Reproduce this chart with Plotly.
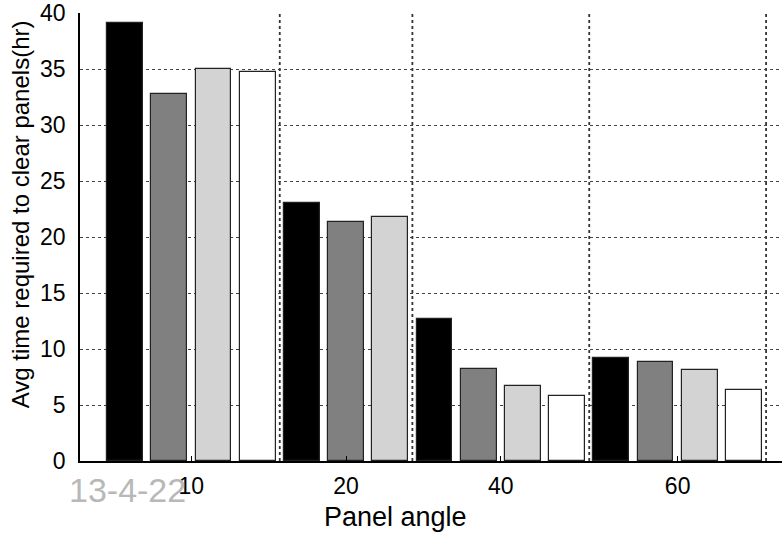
import plotly.graph_objects as go

# ---- data ----
angles = ["10", "20", "40", "60"]
series_a = [39.1, 23.0, 12.7, 9.2]    # black
series_b = [32.8, 21.3, 8.2, 8.8]     # dark gray
series_c = [35.0, 21.8, 6.7, 8.1]     # light gray
series_d = [34.7, None, 5.8, 6.3]     # white (missing for 20)
colors = ["#000000", "#808080", "#d3d3d3", "#ffffff"]
stamp = "13-4-22"

all_series = [series_a, series_b, series_c, series_d]

# sequential slot positions: bars are packed one after another, missing values skipped
xs = [[] for _ in all_series]
ys = [[] for _ in all_series]
centers, bounds = [], []
k = 0
for g in range(len(angles)):
    start = k
    for s, ser in enumerate(all_series):
        v = ser[g]
        if v is None:
            continue
        xs[s].append(k)
        ys[s].append(v)
        k += 1
    end = k - 1
    centers.append((start + end) / 2)
    bounds.append(end + 0.5)

fig = go.Figure()
for s in range(len(all_series)):
    fig.add_trace(go.Bar(
        x=xs[s], y=ys[s], width=0.81,
        marker=dict(color=colors[s], line=dict(color="#222222", width=1.2)),
        showlegend=False,
    ))

for b in bounds:
    fig.add_shape(type="line", xref="x", yref="paper", x0=b, x1=b, y0=0, y1=1,
                  line=dict(color="#333333", width=1.8, dash="dot"), layer="below")

font = "Liberation Sans, Arial, sans-serif"
fig.update_layout(
    width=782, height=533,
    margin=dict(l=80, r=0, t=13, b=72),
    paper_bgcolor="white", plot_bgcolor="white",
    font=dict(family=font, color="black", size=23),
    bargap=0,
    xaxis=dict(
        range=[-1.018, 14.86],
        tickmode="array", tickvals=centers, ticktext=angles,
        ticks="inside", ticklen=5, tickcolor="black",
        showgrid=False, zeroline=False,
        showline=True, linecolor="black", linewidth=1.5,
        tickfont=dict(size=23), ticklabelstandoff=4,
    ),
    yaxis=dict(
        range=[0, 40], tickvals=[0, 5, 10, 15, 20, 25, 30, 35, 40],
        ticks="", showgrid=True, gridcolor="#444444", gridwidth=1, griddash="dot",
        zeroline=False, showline=True, linecolor="black", linewidth=1.5,
        tickfont=dict(size=23), ticklabelstandoff=8,
    ),
    annotations=[
        dict(text="Panel angle", xref="paper", yref="paper", x=0.45, y=-0.126,
             showarrow=False, font=dict(size=27), xanchor="center", yanchor="middle"),
        dict(text="Avg time required to clear panels(hr)", xref="paper", yref="paper",
             x=-0.0845, y=0.55, textangle=-90, showarrow=False, font=dict(size=24),
             xanchor="center", yanchor="middle"),
        dict(text=stamp, xref="paper", yref="paper", x=0.068, y=-0.064,
             showarrow=False, font=dict(size=34, color="#b8b8b8"),
             xanchor="center", yanchor="middle"),
    ],
)

fig.write_html("out.html")
